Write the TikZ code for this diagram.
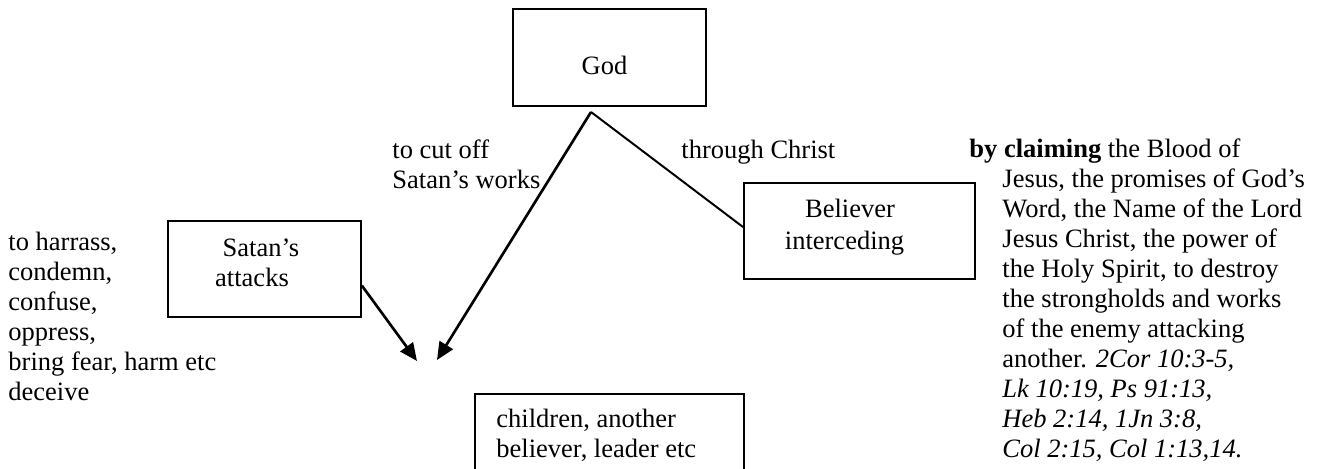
\documentclass[tikz,border=0pt]{standalone}
\usepackage{fontspec}
\setmainfont{Liberation Serif}
\usetikzlibrary{arrows.meta,fit,calc}
\begin{document}
\begin{tikzpicture}[x=0.4528pt,y=-0.4528pt,
  box/.style={draw,line width=0.8pt,inner sep=0pt,rectangle},
  txt/.style={inner sep=0pt,anchor=base west,font=\fontsize{12}{13.6}\selectfont},
  ctxt/.style={inner sep=0pt,anchor=base,font=\fontsize{12}{13.6}\selectfont},
  arr/.style={line width=1.2pt,-{Triangle[length=8pt,width=7pt]}},
  link/.style={line width=0.9pt}]
\clip (0,0) rectangle (1324,468);
% boxes
\node[box,fit={(513,9)(706,106)}] (god) {};
\node[box,fit={(168,221)(361,317)}] (satan) {};
\node[box,fit={(744,183)(975,279)}] (believer) {};
\node[box,fit={(475,394)(744,490)}] (target) {};
% box texts
\node[ctxt] (godtxt) at (604.5,75) {God};
\node[ctxt] (satantxtA) at (261,256) {Satan’s};
\node[ctxt] (satantxtB) at (252,286) {attacks};
\node[ctxt] (beltxtA) at (850,217) {Believer};
\node[ctxt] (beltxtB) at (844.5,249) {interceding};
\node[txt] (tgttxtA) at (496,427) {children, another};
\node[txt] (tgttxtB) at (496,457) {believer, leader etc};
% free labels
\node[txt] (cutA) at (392,158) {to cut off};
\node[txt] (cutB) at (392,188) {Satan’s works};
\node[txt] (through) at (681,158) {through Christ};
\foreach \t [count=\i from 0] in {{to harrass,},{condemn,},{confuse,},{oppress,},{bring fear, harm etc},{deceive}}
  \node[txt] (left\i) at (8,250+30*\i) {\t};
\node[txt] (right0) at (969,157) {\textbf{by claiming} the Blood of};
\foreach \t [count=\i] in {{Jesus, the promises of God’s},{Word, the Name of the Lord},{Jesus Christ, the power of},{the Holy Spirit, to destroy},{the strongholds and works},{of the enemy attacking},{another. \textit{2Cor 10:3-5,}},{\textit{Lk 10:19, Ps 91:13,}},{\textit{Heb 2:14, 1Jn 3:8,}},{\textit{Col 2:15, Col 1:13,14.}}}
  \node[txt] (right\i) at (1002,157+30*\i) {\t};
% connectors
\coordinate (apex) at (591,112);
\coordinate (tipA) at (417,361);
\coordinate (tipB) at (437,360);
\draw[arr] ($(satan.south east)!0.33!(satan.north east)$) -- (tipA);
\draw[arr] (apex) -- (tipB);
\draw[link] (apex) -- ($(believer.north west)!0.46!(believer.south west)$);
\end{tikzpicture}
\end{document}
